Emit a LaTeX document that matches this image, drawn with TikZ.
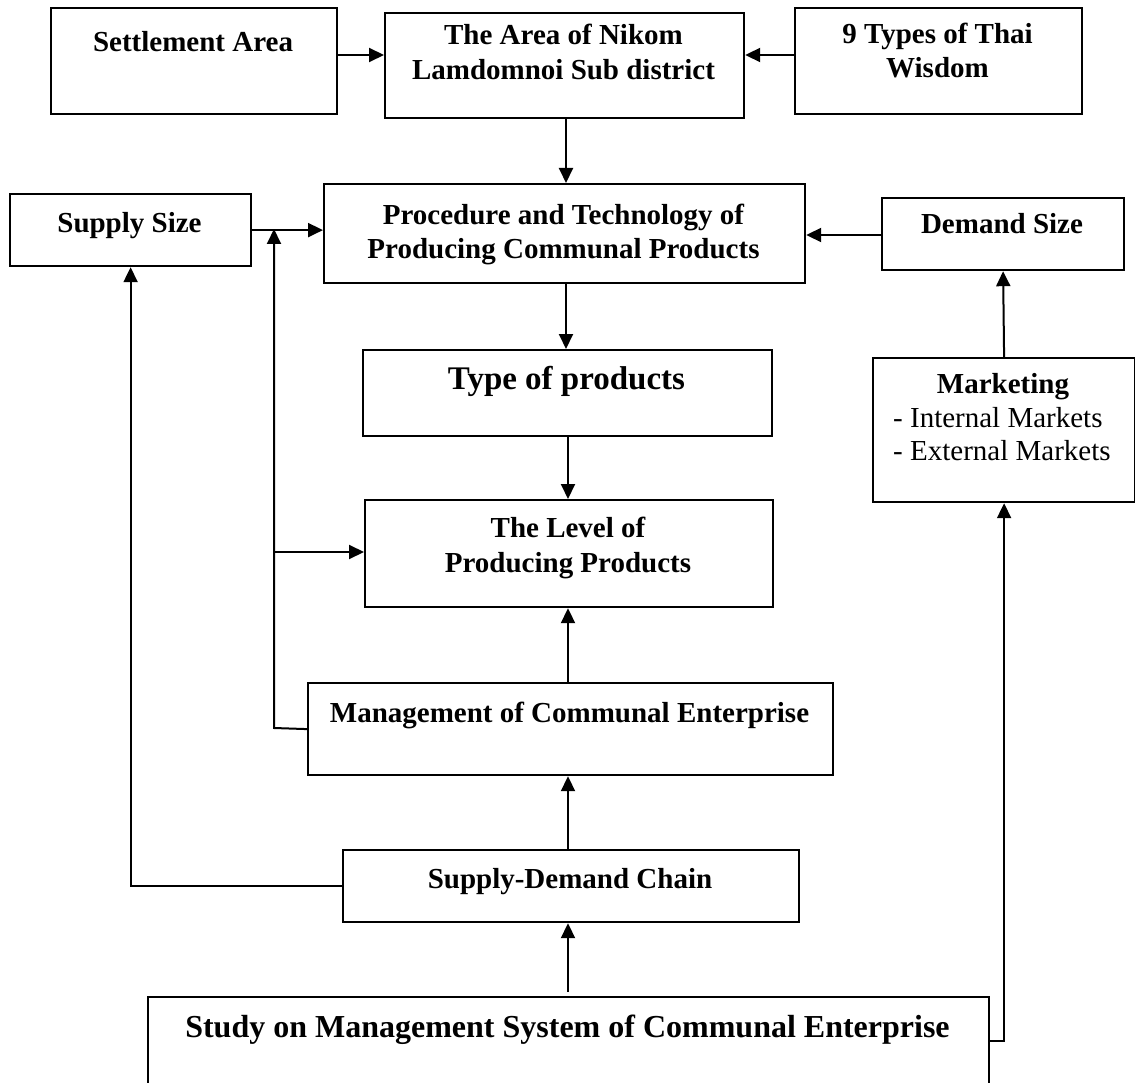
\documentclass[tikz,border=0pt]{standalone}
\usepackage{fontspec}
\setmainfont{Liberation Serif}
\usetikzlibrary{arrows.meta}
\begin{document}
\begin{tikzpicture}[x=1pt,y=-1pt,
  box/.style={draw, line width=2.2pt, rectangle, inner sep=0pt, anchor=north west},
  lbl/.style={anchor=base, inner sep=0pt, font=\fontsize{29}{34}\selectfont\bfseries},
  big/.style={anchor=base, inner sep=0pt, font=\fontsize{33}{38}\selectfont\bfseries},
  item/.style={anchor=base west, inner sep=0pt, font=\fontsize{29}{34}\selectfont},
  arr/.style={line width=2pt, -{Triangle[length=15pt,width=14pt]}}]
\useasboundingbox (0,0) rectangle (1135,1083);
\fill[white] (0,0) rectangle (1135,1083);

% boxes
\node[box, minimum width=286pt, minimum height=106pt] (st) at (50,7) {};
\node[box, minimum width=359pt, minimum height=105pt] (ar) at (384,12) {};
\node[box, minimum width=287pt, minimum height=106pt] (wt) at (794,7) {};
\node[box, minimum width=481pt, minimum height=99pt] (pr) at (323,183) {};
\node[box, minimum width=241pt, minimum height=72pt] (sup) at (9,193) {};
\node[box, minimum width=242pt, minimum height=72pt] (dm) at (881,197) {};
\node[box, minimum width=409pt, minimum height=86pt] (ty) at (362,349) {};
\node[box, minimum width=408pt, minimum height=107pt] (lv) at (364,499) {};
\node[box, minimum width=262pt, minimum height=144pt] (mkt) at (872,357) {};
\node[box, minimum width=525pt, minimum height=92pt] (mg) at (307,682) {};
\node[box, minimum width=456pt, minimum height=72pt] (sd) at (342,849) {};
\node[box, minimum width=841pt, minimum height=120pt] (study) at (147,996) {};

% labels
\node[lbl] (t-st) at (193,52) {Settlement Area};
\node[lbl] (t-ar1) at (563.5,45) {The Area of Nikom};
\node[lbl] (t-ar2) at (563.5,80) {Lamdomnoi Sub district};
\node[lbl] (t-wt1) at (937.5,44) {9 Types of Thai};
\node[lbl] (t-wt2) at (937.5,78) {Wisdom};
\node[lbl] (t-pr1) at (563.5,225) {Procedure and Technology of};
\node[lbl] (t-pr2) at (563.5,259) {Producing Communal Products};
\node[lbl] (t-sup) at (129.5,233) {Supply Size};
\node[lbl] (t-dm) at (1002,234) {Demand Size};
\node[big] (t-ty) at (566.5,389) {Type of products};
\node[lbl] (t-lv1) at (568,537) {The Level of};
\node[lbl] (t-lv2) at (568,572) {Producing Products};
\node[lbl] (t-mkt) at (1003,393) {Marketing};
\node[item] (t-mkt1) at (893,427) {- Internal Markets};
\node[item] (t-mkt2) at (893,460) {- External Markets};
\node[lbl] (t-mg) at (569.5,722) {Management of Communal Enterprise};
\node[lbl] (t-sd) at (570,888) {Supply-Demand Chain};
\node[anchor=base, inner sep=0pt, font=\fontsize{32}{37}\selectfont\bfseries] (t-study) at (567.5,1037) {Study on Management System of Communal Enterprise};

% helper coordinates for connector levels
\coordinate (ay) at (0,55);
\coordinate (dy) at (0,235);
\coordinate (cx) at (566,0);
\coordinate (cx2) at (568,0);
\coordinate (vbot) at (274,728);
\coordinate (vtop) at (274,229);
\coordinate (vmid) at (274,552);
\coordinate (sm) at (0,1041);

% connectors
\draw[arr] (st.east |- ay) -- (ar.west |- ay);
\draw[arr] (wt.west |- ay) -- (ar.east |- ay);
\draw[arr] (ar.south -| cx) -- (pr.north -| cx);
\draw[arr] (sup.east) -- (pr.west |- sup.east);
\draw[arr] (dm.west |- dy) -- (pr.east |- dy);
\draw[arr] (pr.south -| cx) -- (ty.north -| cx);
\draw[arr] (ty.south -| cx2) -- (lv.north -| cx2);
\draw[arr] (mg.north -| cx2) -- (lv.south -| cx2);
\draw[arr] (sd.north -| cx2) -- (mg.south -| cx2);
\draw[arr, shorten <=4pt] (study.north -| cx2) -- (sd.south -| cx2);
\draw[arr] (mg.west) -- (vbot) -- (vtop);
\draw[arr] (vmid) -- (lv.west |- vmid);
\draw[arr] (sd.west) -- (sup.south |- sd.west) -- (sup.south);
\draw[arr] (study.east |- sm) -- (mkt.south |- sm) -- (mkt.south);
\draw[arr] (mkt.north) -- (dm.south);
\end{tikzpicture}
\end{document}
